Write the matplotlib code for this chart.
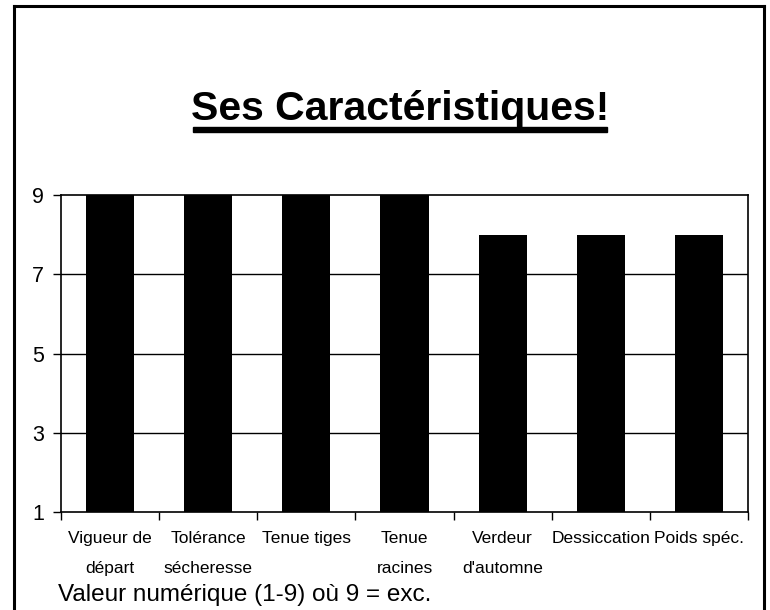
import matplotlib
matplotlib.use("Agg")
import matplotlib.pyplot as plt
from matplotlib.lines import Line2D
from matplotlib.patches import Rectangle
import numpy as np

categories = ["Vigueur de\ndépart", "Tolérance\nsécheresse", "Tenue tiges",
              "Tenue\nracines", "Verdeur\nd'automne", "Dessiccation", "Poids spéc."]
values = [9, 9, 9, 9, 8, 8, 8]
yticks = [1, 3, 5, 7, 9]
title = "Ses Caractéristiques!"
note = "Valeur numérique (1-9) où 9 = exc."

W, H = 770, 610
fig = plt.figure(figsize=(W / 100, H / 100), dpi=100)
fig.patch.set_facecolor("white")

# axes: left 61, right 748, top 195, bottom 512 (pixels)
ax = fig.add_axes([61 / W, 1 - 512 / H, (748 - 61) / W, (512 - 195) / H])
x = np.arange(len(categories))
ax.bar(x, values, width=0.49, color="black", zorder=3)
ax.set_xlim(-0.5, len(categories) - 0.5)
ax.set_ylim(1, 9)
ax.set_yticks(yticks)
ax.set_yticklabels([str(t) for t in yticks], fontsize=15.5, family="Liberation Sans")
ax.tick_params(axis="y", direction="out", length=6, width=1, pad=6)
for t in [3, 5, 7]:
    ax.axhline(t, color="black", lw=1, zorder=1)

ax.set_xticks(x)
ax.set_xticklabels(categories, fontsize=12.5,
                   family="Liberation Sans",
                   linespacing=2.25)
ax.tick_params(axis="x", which="major", length=0, pad=14)
ax.set_xticks(np.arange(len(categories) + 1) - 0.5, minor=True)
ax.tick_params(axis="x", which="minor", direction="out", length=6, width=1)
for s in ax.spines.values():
    s.set_linewidth(1.2)
    s.set_color("black")

# figure frame (no bottom edge)
lw = 2.2
fig.add_artist(Line2D([14 / W, 14 / W], [0, 1 - 5.5 / H], transform=fig.transFigure, color="black", lw=lw))
fig.add_artist(Line2D([14 / W, 764 / W], [1 - 5.5 / H, 1 - 5.5 / H], transform=fig.transFigure, color="black", lw=lw))
fig.add_artist(Line2D([764 / W, 764 / W], [0, 1 - 5.5 / H], transform=fig.transFigure, color="black", lw=lw))

# title with underline
fig.text(400 / W, 1 - 120 / H, title, ha="center", va="baseline", fontsize=29.5,
         fontweight="bold", family="Liberation Sans")
fig.add_artist(Rectangle((193 / W, 1 - 131.5 / H), (607 - 193) / W, 5 / H,
                         transform=fig.transFigure, color="black"))

fig.text(58 / W, 1 - 601 / H, note, ha="left", va="baseline", fontsize=17.5,
         family="Liberation Sans")

fig.savefig("out.png", dpi=100)
